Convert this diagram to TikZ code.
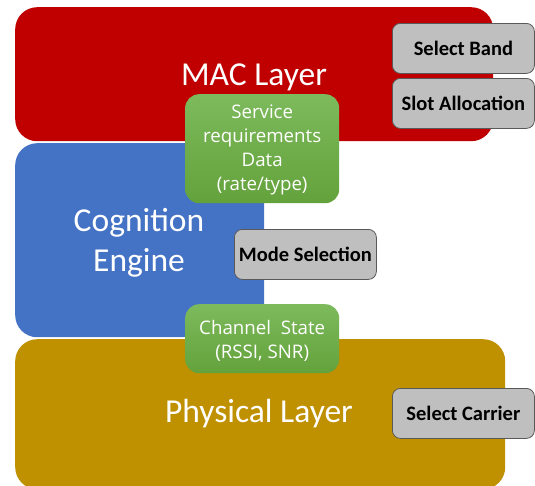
\documentclass[tikz,border=0pt]{standalone}
\usepackage{fontspec}
\setmainfont{Carlito}
\newfontfamily\greenfont{Open Sans}
\usetikzlibrary{positioning}
\definecolor{macred}{HTML}{C00000}
\definecolor{cogblue}{HTML}{4472C4}
\definecolor{phygold}{HTML}{BF9000}
\definecolor{greentop}{HTML}{7DBA5C}
\definecolor{greenbot}{HTML}{63A23B}
\definecolor{boxgrey}{HTML}{BFBFBF}
\definecolor{boxedge}{HTML}{595959}
\tikzset{
  layer/.style={fill=#1, draw=none, rounded corners=22pt, anchor=north west},
  layertext/.style={text=white, font=\fontsize{33.5}{40}\selectfont, align=center},
  infobox/.style={top color=greentop, bottom color=greenbot, draw=none,
    rounded corners=14pt, anchor=north west, minimum width=154pt},
  infotext/.style={text=white, font=\greenfont\fontsize{18.7}{24}\selectfont, align=center},
  taskbox/.style={fill=boxgrey, draw=boxedge, line width=0.8pt, rounded corners=8pt,
    anchor=north west, minimum width=142pt, minimum height=50pt,
    font=\bfseries\fontsize{20.5}{24}\selectfont, inner sep=0pt},
}
\begin{document}
\begin{tikzpicture}[x=1pt, y=-1pt]
  \useasboundingbox (0,0) rectangle (535,485);
  % three stacked layers
  \node[layer=macred, minimum width=478pt, minimum height=134pt] (mac) at (15,7) {};
  \node[layer=cogblue, minimum width=249pt, minimum height=194pt] (cog) at (15,143) {};
  \node[layer=phygold, minimum width=490pt, minimum height=150pt] (phy) at (15,339) {};
  % layer titles
  \node[layertext] (mactxt) at (254,77) {MAC Layer};
  \node[layertext] (cogtxt) at (139,243) {Cognition\\Engine};
  \node[layertext] (phytxt) at (259,414) {Physical Layer};
  % information exchanged between the layers
  \node[infobox, minimum height=109pt] (svc) at (185,94) {};
  \node[infotext] (svctxt) at ([yshift=-1pt]svc.center) {Service\\requirements\\Data\\(rate/type)};
  \node[infobox, minimum height=69pt] (chn) at (185,304) {};
  \node[infotext] (chntxt) at ([yshift=-2pt]chn.center) {Channel\ \ State\\(RSSI, SNR)};
  % tasks handled at each layer
  \node[taskbox] (band) at (392,23) {Select Band};
  \node[taskbox] (slot) at (392,78) {Slot Allocation};
  \node[taskbox] (mode) at (234,229) {Mode Selection};
  \node[taskbox] (carrier) at (392,388) {Select Carrier};
\end{tikzpicture}
\end{document}
